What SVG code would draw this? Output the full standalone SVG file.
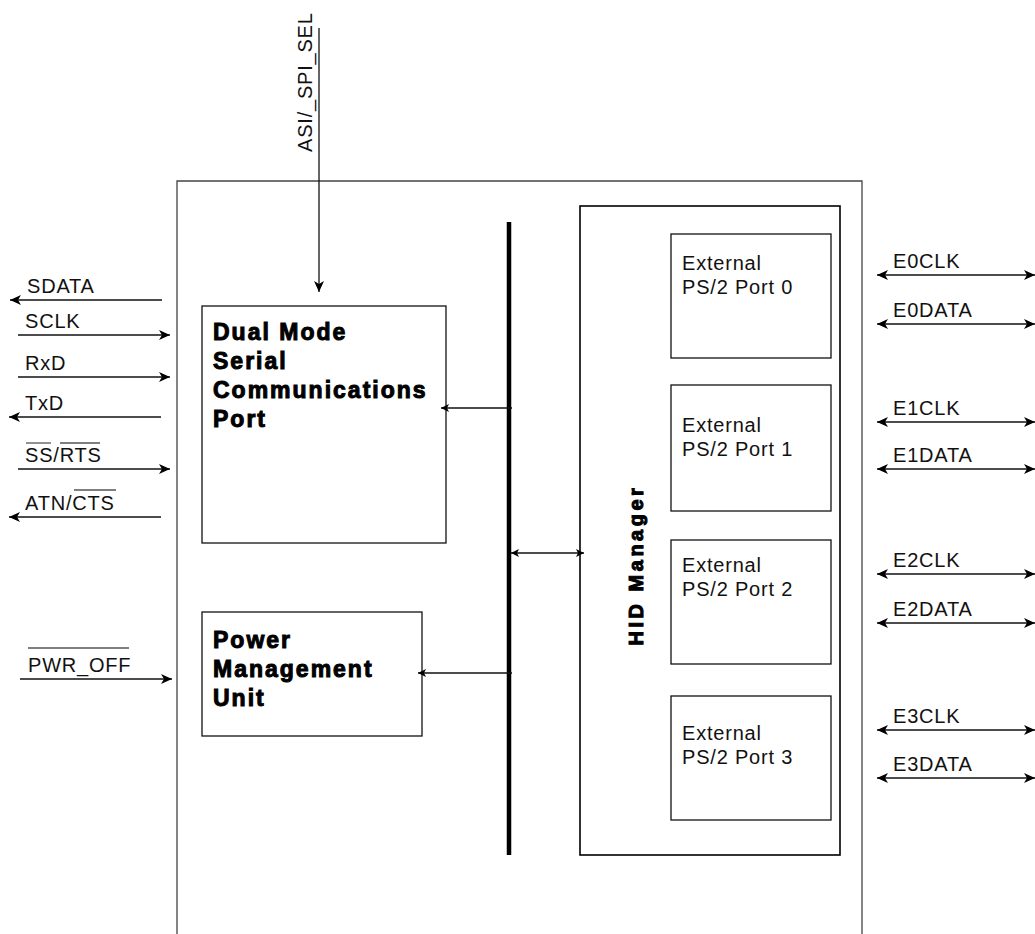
<svg xmlns="http://www.w3.org/2000/svg" width="1035" height="934" viewBox="0 0 1035 934">
<style>
.lbl{font-family:"Liberation Sans",Arial,sans-serif;font-size:20px;letter-spacing:0.8px;fill:#111}
.bold{font-family:"Liberation Sans",Arial,sans-serif;font-size:23px;font-weight:bold;fill:#000;stroke:#000;stroke-width:1;letter-spacing:2px}
.box{fill:none;stroke:#111;stroke-width:1.3}
.sig{stroke:#111;stroke-width:1.3;fill:none}
.ovl{stroke:#555;stroke-width:1.3}
</style>
<defs>
<marker id="a" markerUnits="userSpaceOnUse" markerWidth="12" markerHeight="10" refX="11" refY="5" orient="auto-start-reverse"><path d="M0,0 L11,5 L0,10 L3,5 z" fill="#000"/></marker>
<marker id="s" markerUnits="userSpaceOnUse" markerWidth="9" markerHeight="8" refX="8" refY="4" orient="auto-start-reverse"><path d="M0,0 L8,4 L0,8 L2,4 z" fill="#000"/></marker>
</defs>
<rect width="1035" height="934" fill="#fff"/>
<g id="chip">
<path d="M177,934 V181 H862 V934" fill="none" stroke="#444" stroke-width="1.3"/>
</g>
<g id="bus">
<line x1="509" y1="222" x2="509" y2="855" stroke="#000" stroke-width="4.5"/>
</g>
<g id="dmscp">
<rect class="box" x="202" y="306" width="244" height="237"/>
<text class="bold" x="213" y="340">Dual Mode</text>
<text class="bold" x="213" y="369">Serial</text>
<text class="bold" x="213" y="398">Communications</text>
<text class="bold" x="213" y="427">Port</text>
</g>
<g id="pmu">
<rect class="box" x="202" y="612" width="220" height="124"/>
<text class="bold" x="213" y="648">Power</text>
<text class="bold" x="213" y="677">Management</text>
<text class="bold" x="213" y="706">Unit</text>
</g>
<g id="hid">
<rect x="580" y="206" width="260" height="649" fill="none" stroke="#000" stroke-width="1.6"/>
<text class="bold" transform="translate(643,565) rotate(-90)" text-anchor="middle" style="letter-spacing:3.5px;font-size:20px">HID Manager</text>
</g>
<g id="port0">
<rect class="box" x="671" y="234" width="160" height="124"/>
<text class="lbl" x="682" y="270">External</text>
<text class="lbl" x="682" y="294">PS/2 Port 0</text>
</g>
<g id="port1">
<rect class="box" x="671" y="385" width="160" height="126"/>
<text class="lbl" x="682" y="432">External</text>
<text class="lbl" x="682" y="456">PS/2 Port 1</text>
</g>
<g id="port2">
<rect class="box" x="671" y="540" width="160" height="124"/>
<text class="lbl" x="682" y="572">External</text>
<text class="lbl" x="682" y="596">PS/2 Port 2</text>
</g>
<g id="port3">
<rect class="box" x="671" y="696" width="160" height="124"/>
<text class="lbl" x="682" y="740">External</text>
<text class="lbl" x="682" y="764">PS/2 Port 3</text>
</g>
<g id="connectors">
<line class="sig" x1="319" y1="28" x2="319" y2="292" marker-end="url(#a)"/>
<line class="sig" x1="162" y1="300" x2="10" y2="300" marker-end="url(#a)"/>
<line class="sig" x1="18" y1="335" x2="170" y2="335" marker-end="url(#a)"/>
<line class="sig" x1="18" y1="377" x2="170" y2="377" marker-end="url(#a)"/>
<line class="sig" x1="161" y1="417" x2="9" y2="417" marker-end="url(#a)"/>
<line class="sig" x1="18" y1="469" x2="170" y2="469" marker-end="url(#a)"/>
<line class="sig" x1="161" y1="517" x2="9" y2="517" marker-end="url(#a)"/>
<line class="sig" x1="20" y1="679" x2="172" y2="679" marker-end="url(#a)"/>
<line class="sig" x1="512" y1="408" x2="441" y2="408" marker-end="url(#s)"/>
<line class="sig" x1="512" y1="673" x2="418" y2="673" marker-end="url(#s)"/>
<line class="sig" x1="511" y1="553" x2="584" y2="553" marker-start="url(#s)" marker-end="url(#s)"/>
<line class="sig" x1="877" y1="275" x2="1035" y2="275" marker-start="url(#a)" marker-end="url(#a)"/>
<line class="sig" x1="877" y1="324" x2="1035" y2="324" marker-start="url(#a)" marker-end="url(#a)"/>
<line class="sig" x1="877" y1="422" x2="1035" y2="422" marker-start="url(#a)" marker-end="url(#a)"/>
<line class="sig" x1="877" y1="469" x2="1035" y2="469" marker-start="url(#a)" marker-end="url(#a)"/>
<line class="sig" x1="877" y1="574" x2="1035" y2="574" marker-start="url(#a)" marker-end="url(#a)"/>
<line class="sig" x1="877" y1="623" x2="1035" y2="623" marker-start="url(#a)" marker-end="url(#a)"/>
<line class="sig" x1="877" y1="730" x2="1035" y2="730" marker-start="url(#a)" marker-end="url(#a)"/>
<line class="sig" x1="877" y1="778" x2="1035" y2="778" marker-start="url(#a)" marker-end="url(#a)"/>
</g>
<g id="labels">
<text class="lbl" transform="translate(312,152) rotate(-90)">ASI/_SPI_SEL</text>
<text class="lbl" x="27" y="293">SDATA</text>
<text class="lbl" x="25" y="328">SCLK</text>
<text class="lbl" x="25" y="370">RxD</text>
<text class="lbl" x="25" y="410">TxD</text>
<text class="lbl" x="25" y="462">SS/RTS</text>
<line class="ovl" x1="26" y1="443" x2="51" y2="443"/>
<line class="ovl" x1="60" y1="443" x2="100" y2="443"/>
<text class="lbl" x="25" y="510">ATN/CTS</text>
<line class="ovl" x1="74" y1="490" x2="116" y2="490"/>
<text class="lbl" x="28" y="672">PWR_OFF</text>
<line class="ovl" x1="28" y1="648" x2="129" y2="648"/>
<text class="lbl" x="893" y="268">E0CLK</text>
<text class="lbl" x="893" y="317">E0DATA</text>
<text class="lbl" x="893" y="415">E1CLK</text>
<text class="lbl" x="893" y="462">E1DATA</text>
<text class="lbl" x="893" y="567">E2CLK</text>
<text class="lbl" x="893" y="616">E2DATA</text>
<text class="lbl" x="893" y="723">E3CLK</text>
<text class="lbl" x="893" y="771">E3DATA</text>
</g>
</svg>
